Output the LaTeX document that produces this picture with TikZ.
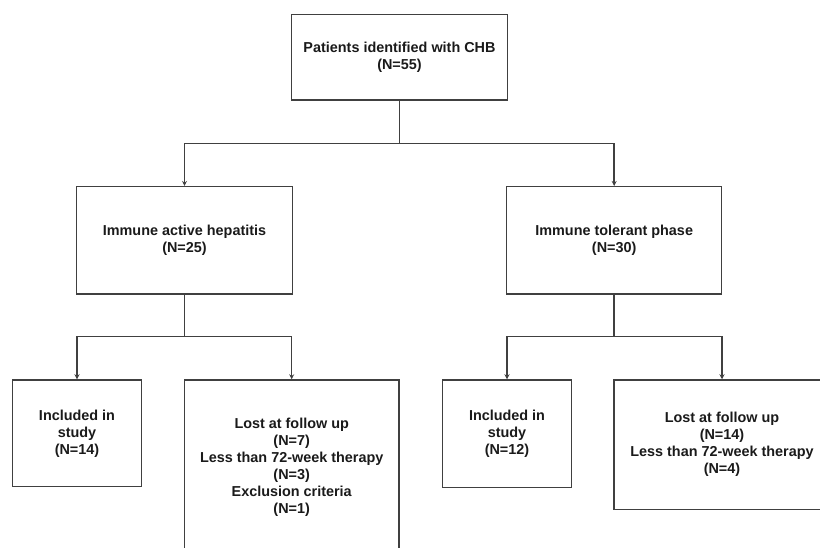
\documentclass[tikz,border=0pt]{standalone}
\usepackage{fontspec}
\setmainfont{Liberation Sans}
\usetikzlibrary{arrows.meta}
\definecolor{linec}{HTML}{404040}
\definecolor{textc}{HTML}{1A1A1A}
\begin{document}
\begin{tikzpicture}[x=1pt,y=1pt,
  box/.style={draw=linec, line width=1.5pt, rectangle, inner sep=0pt, align=center,
    text=textc, font=\fontsize{14.4}{17}\selectfont\bfseries},
  conn/.style={draw=linec, line width=1.5pt},
  arr/.style={conn, -{Stealth[length=5pt,width=5pt]}}]
\useasboundingbox (0,0) rectangle (820,-547);
\clip (0,0) rectangle (820,-547);
\node[box, minimum width=215.6pt, minimum height=85.7pt] (top) at (399.5,-57.15) {Patients identified with CHB\\(N=55)};
\node[box, minimum width=215.6pt, minimum height=107.3pt] (ia) at (184.5,-240.35) {Immune active hepatitis\\(N=25)};
\node[box, minimum width=215pt, minimum height=107.3pt] (it) at (614.2,-240.35) {Immune tolerant phase\\(N=30)};
\node[box, minimum width=129.4pt, minimum height=106.7pt] (inc1) at (77,-433.35) {Included in\\study\\(N=14)};
\node[box, minimum width=214.7pt, minimum height=174pt] (lost1) at (291.7,-467) {Lost at follow up\\(N=7)\\Less than 72-week therapy\\(N=3)\\Exclusion criteria\\(N=1)};
\node[box, minimum width=129.4pt, minimum height=107.3pt] (inc2) at (507,-433.65) {Included in\\study\\(N=12)};
\node[box, minimum width=216pt, minimum height=129.3pt] (lost2) at (722,-444.65) {Lost at follow up\\(N=14)\\Less than 72-week therapy\\(N=4)};
\coordinate (j1) at (399.5,-143.3);
\coordinate (j2) at (184.5,-336.7);
\coordinate (j3) at (614.2,-336.7);
\draw[conn] (top.south) -- (j1);
\draw[arr] (j1) -| (ia.north);
\draw[arr] (j1) -| (it.north);
\draw[conn] (ia.south) -- (j2);
\draw[arr] (j2) -| (inc1.north);
\draw[arr] (j2) -| (lost1.north);
\draw[conn] (it.south) -- (j3);
\draw[arr] (j3) -| (inc2.north);
\draw[arr] (j3) -| (lost2.north);
\end{tikzpicture}
\end{document}
